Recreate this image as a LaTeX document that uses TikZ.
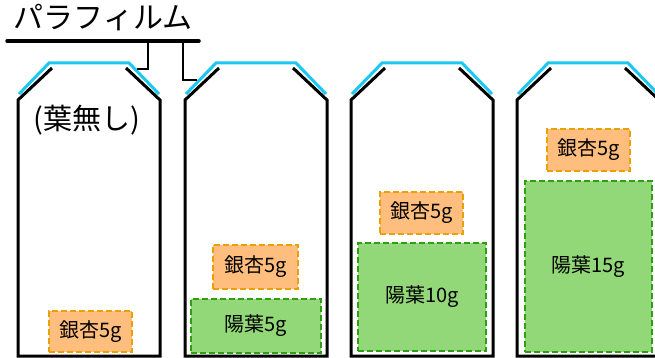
\documentclass[tikz,border=0pt]{standalone}
\usepackage{fontspec}
\setmainfont{Noto Sans CJK JP}
\definecolor{filmcyan}{HTML}{1CC8F0}
\definecolor{ginfill}{HTML}{FFBE7D}
\definecolor{ginedge}{HTML}{EBA000}
\definecolor{leaffill}{HTML}{92D878}
\definecolor{leafedge}{HTML}{2CA010}
\tikzset{
  bottle/.style={draw=black,line width=3pt,line join=miter},
  film/.style={draw=filmcyan,line width=3pt},
  ginbox/.style={draw=ginedge,fill=ginfill,line width=2.6pt,dash pattern=on 6pt off 3pt,inner sep=0pt,font=\fontsize{20}{22}\selectfont},
  leafbox/.style={draw=leafedge,fill=leaffill,line width=2.6pt,dash pattern=on 6pt off 3pt,inner sep=0pt,font=\fontsize{20}{22}\selectfont},
  leader/.style={draw=black,line width=2.6pt},
}
\begin{document}
\begin{tikzpicture}[x=1pt,y=-1pt]
\useasboundingbox (0,0) rectangle (655,358);
% bottles
\foreach \L in {18,185,351,517}{
  \draw[bottle] (\L+34,68) -- (\L,100) -- (\L,356) -- (\L+142,356) -- (\L+142,100) -- (\L+108,68);
  \draw[film] (\L+1,94) -- (\L+31,63) -- (\L+111,63) -- (\L+141,94);
}
% title
\node[font=\fontsize{30}{32}\selectfont,anchor=center] (title) at (103,18) {パラフィルム};
\coordinate (ulA) at (7,41);
\coordinate (ulB) at (199,41);
\draw[black,line width=3.5pt,line cap=round] (ulA) -- (ulB);
\coordinate (la) at (148,41);
\coordinate (lb) at (137,69);
\coordinate (lc) at (183,41);
\coordinate (ld) at (197,80);
\draw[leader] (la) |- (lb);
\draw[leader] (lc) |- (ld);
\node[font=\fontsize{29}{31}\selectfont] (none) at (87,120) {(葉無し)};
% contents
\node[ginbox,minimum width=83pt,minimum height=41pt] (g1) at (90.5,331.5) {銀杏5g};
\node[leafbox,minimum width=130pt,minimum height=54pt] (l2) at (256,326) {陽葉5g};
\node[ginbox,minimum width=85pt,minimum height=44pt] (g2) at (255.5,267) {銀杏5g};
\node[leafbox,minimum width=128pt,minimum height=108pt] (l3) at (422,297) {陽葉10g};
\node[ginbox,minimum width=83pt,minimum height=42pt] (g3) at (421.5,213) {銀杏5g};
\node[leafbox,minimum width=127pt,minimum height=171pt] (l4) at (588.5,266.5) {陽葉15g};
\node[ginbox,minimum width=83pt,minimum height=42pt] (g4) at (588.5,150) {銀杏5g};
\end{tikzpicture}
\end{document}
